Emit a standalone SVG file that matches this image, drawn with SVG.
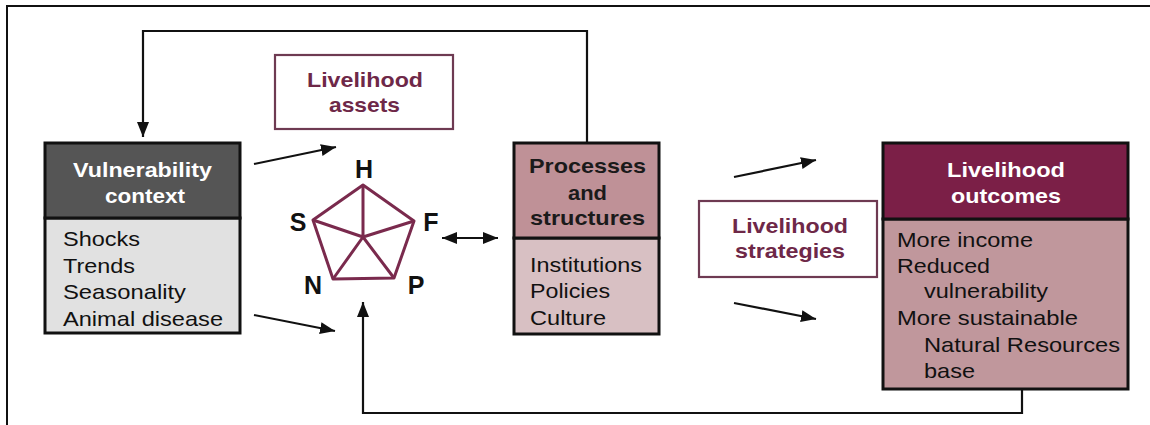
<svg xmlns="http://www.w3.org/2000/svg" width="1150" height="425" viewBox="0 0 1150 425">
  <defs>
    <marker id="head" viewBox="0 0 15 12" refX="15" refY="6" markerWidth="15" markerHeight="12" markerUnits="userSpaceOnUse" orient="auto-start-reverse">
      <path d="M0,0 L15,6 L0,12 Z" fill="#111"/>
    </marker>
    <style>
      .frame { fill: none; stroke: #111; stroke-width: 2; }
      .box { stroke: #111; stroke-width: 3; }
      .label-box { fill: #fff; stroke: #6e3a52; stroke-width: 2.2; }
      .conn { fill: none; stroke: #111; stroke-width: 2.2; }
      .arrow { marker-end: url(#head); }
      .title { font-family: "Liberation Sans", Arial, sans-serif; font-weight: bold; font-size: 21px; text-anchor: middle; }
      .body { font-family: "Liberation Sans", Arial, sans-serif; font-size: 21px; fill: #111; }
      .white { fill: #fff; }
      .dark { fill: #1a1a1a; }
      .maroon { fill: #6e2848; }
      .pent { fill: none; stroke: #7a2a4d; stroke-width: 3; stroke-linejoin: round; }
      .letter { font-family: "Liberation Sans", Arial, sans-serif; font-weight: bold; font-size: 25px; fill: #111; text-anchor: middle; }
    </style>
  </defs>

  <rect width="1150" height="425" fill="#fff"/>
  <!-- page frame (top and left edges) -->
  <path class="frame" d="M7,425 V6 H1150"/>

  <!-- connectors -->
  <g id="connectors">
    <path class="conn arrow" d="M587,143 V31 H143 V137"/>
    <path class="conn arrow" d="M1022,389 V413 H363 V302"/>
    <path class="conn arrow" d="M254,164 L336,147"/>
    <path class="conn arrow" d="M254,315 L335,331"/>
    <path class="conn" d="M442,238 L498,238" marker-start="url(#head)" marker-end="url(#head)"/>
    <path class="conn arrow" d="M734,177 L816,160"/>
    <path class="conn arrow" d="M734,303 L816,319"/>
  </g>

  <!-- vulnerability context -->
  <g id="vulnerability">
    <rect class="box" x="45" y="218" width="195" height="115" fill="#e1e1e1"/>
    <rect class="box" x="45" y="143" width="195" height="75" fill="#555"/>
    <text class="title white" x="142.5" y="177" textLength="139" lengthAdjust="spacingAndGlyphs">Vulnerability</text>
    <text class="title white" x="145" y="203" textLength="80" lengthAdjust="spacingAndGlyphs">context</text>
    <text class="body" x="63" y="246" textLength="77" lengthAdjust="spacingAndGlyphs">Shocks</text>
    <text class="body" x="63" y="273" textLength="72" lengthAdjust="spacingAndGlyphs">Trends</text>
    <text class="body" x="63" y="299" textLength="123" lengthAdjust="spacingAndGlyphs">Seasonality</text>
    <text class="body" x="63" y="326" textLength="160" lengthAdjust="spacingAndGlyphs">Animal disease</text>
  </g>

  <!-- livelihood assets label -->
  <g id="assets-label">
    <rect class="label-box" x="275" y="55" width="178" height="74"/>
    <text class="title maroon" x="365" y="87" textLength="116" lengthAdjust="spacingAndGlyphs">Livelihood</text>
    <text class="title maroon" x="364.5" y="112" textLength="71" lengthAdjust="spacingAndGlyphs">assets</text>
  </g>

  <!-- asset pentagon -->
  <g id="pentagon">
    <polygon class="pent" points="363,185 414,221 394,278 333,279 313,220"/>
    <path class="pent" d="M363,237 L363,185 M363,237 L414,221 M363,237 L394,278 M363,237 L333,279 M363,237 L313,220"/>
    <text class="letter" x="364" y="178">H</text>
    <text class="letter" x="298" y="231">S</text>
    <text class="letter" x="431" y="231">F</text>
    <text class="letter" x="313" y="294">N</text>
    <text class="letter" x="416" y="294">P</text>
  </g>

  <!-- processes and structures -->
  <g id="processes">
    <rect class="box" x="514" y="238" width="145" height="96" fill="#d8c0c3"/>
    <rect class="box" x="514" y="143" width="145" height="95" fill="#bf9197"/>
    <text class="title dark" x="587.5" y="173" textLength="117" lengthAdjust="spacingAndGlyphs">Processes</text>
    <text class="title dark" x="587.5" y="200" textLength="39" lengthAdjust="spacingAndGlyphs">and</text>
    <text class="title dark" x="587.5" y="225" textLength="115" lengthAdjust="spacingAndGlyphs">structures</text>
    <text class="body" x="530" y="272" textLength="112" lengthAdjust="spacingAndGlyphs">Institutions</text>
    <text class="body" x="530" y="298" textLength="80" lengthAdjust="spacingAndGlyphs">Policies</text>
    <text class="body" x="530" y="325" textLength="76" lengthAdjust="spacingAndGlyphs">Culture</text>
  </g>

  <!-- livelihood strategies label -->
  <g id="strategies-label">
    <rect class="label-box" x="699" y="201" width="178" height="76"/>
    <text class="title maroon" x="790" y="233" textLength="116" lengthAdjust="spacingAndGlyphs">Livelihood</text>
    <text class="title maroon" x="790" y="258" textLength="110" lengthAdjust="spacingAndGlyphs">strategies</text>
  </g>

  <!-- livelihood outcomes -->
  <g id="outcomes">
    <rect class="box" x="883" y="219" width="245" height="170" fill="#c0979c"/>
    <rect class="box" x="883" y="143" width="245" height="76" fill="#7b1f47"/>
    <text class="title white" x="1006" y="177" textLength="118" lengthAdjust="spacingAndGlyphs">Livelihood</text>
    <text class="title white" x="1006" y="203" textLength="110" lengthAdjust="spacingAndGlyphs">outcomes</text>
    <text class="body" x="897" y="247" textLength="136" lengthAdjust="spacingAndGlyphs">More income</text>
    <text class="body" x="897" y="273" textLength="93" lengthAdjust="spacingAndGlyphs">Reduced</text>
    <text class="body" x="924" y="298" textLength="124" lengthAdjust="spacingAndGlyphs">vulnerability</text>
    <text class="body" x="897" y="325" textLength="181" lengthAdjust="spacingAndGlyphs">More sustainable</text>
    <text class="body" x="924" y="352" textLength="196" lengthAdjust="spacingAndGlyphs">Natural Resources</text>
    <text class="body" x="924" y="378" textLength="51" lengthAdjust="spacingAndGlyphs">base</text>
  </g>
</svg>
